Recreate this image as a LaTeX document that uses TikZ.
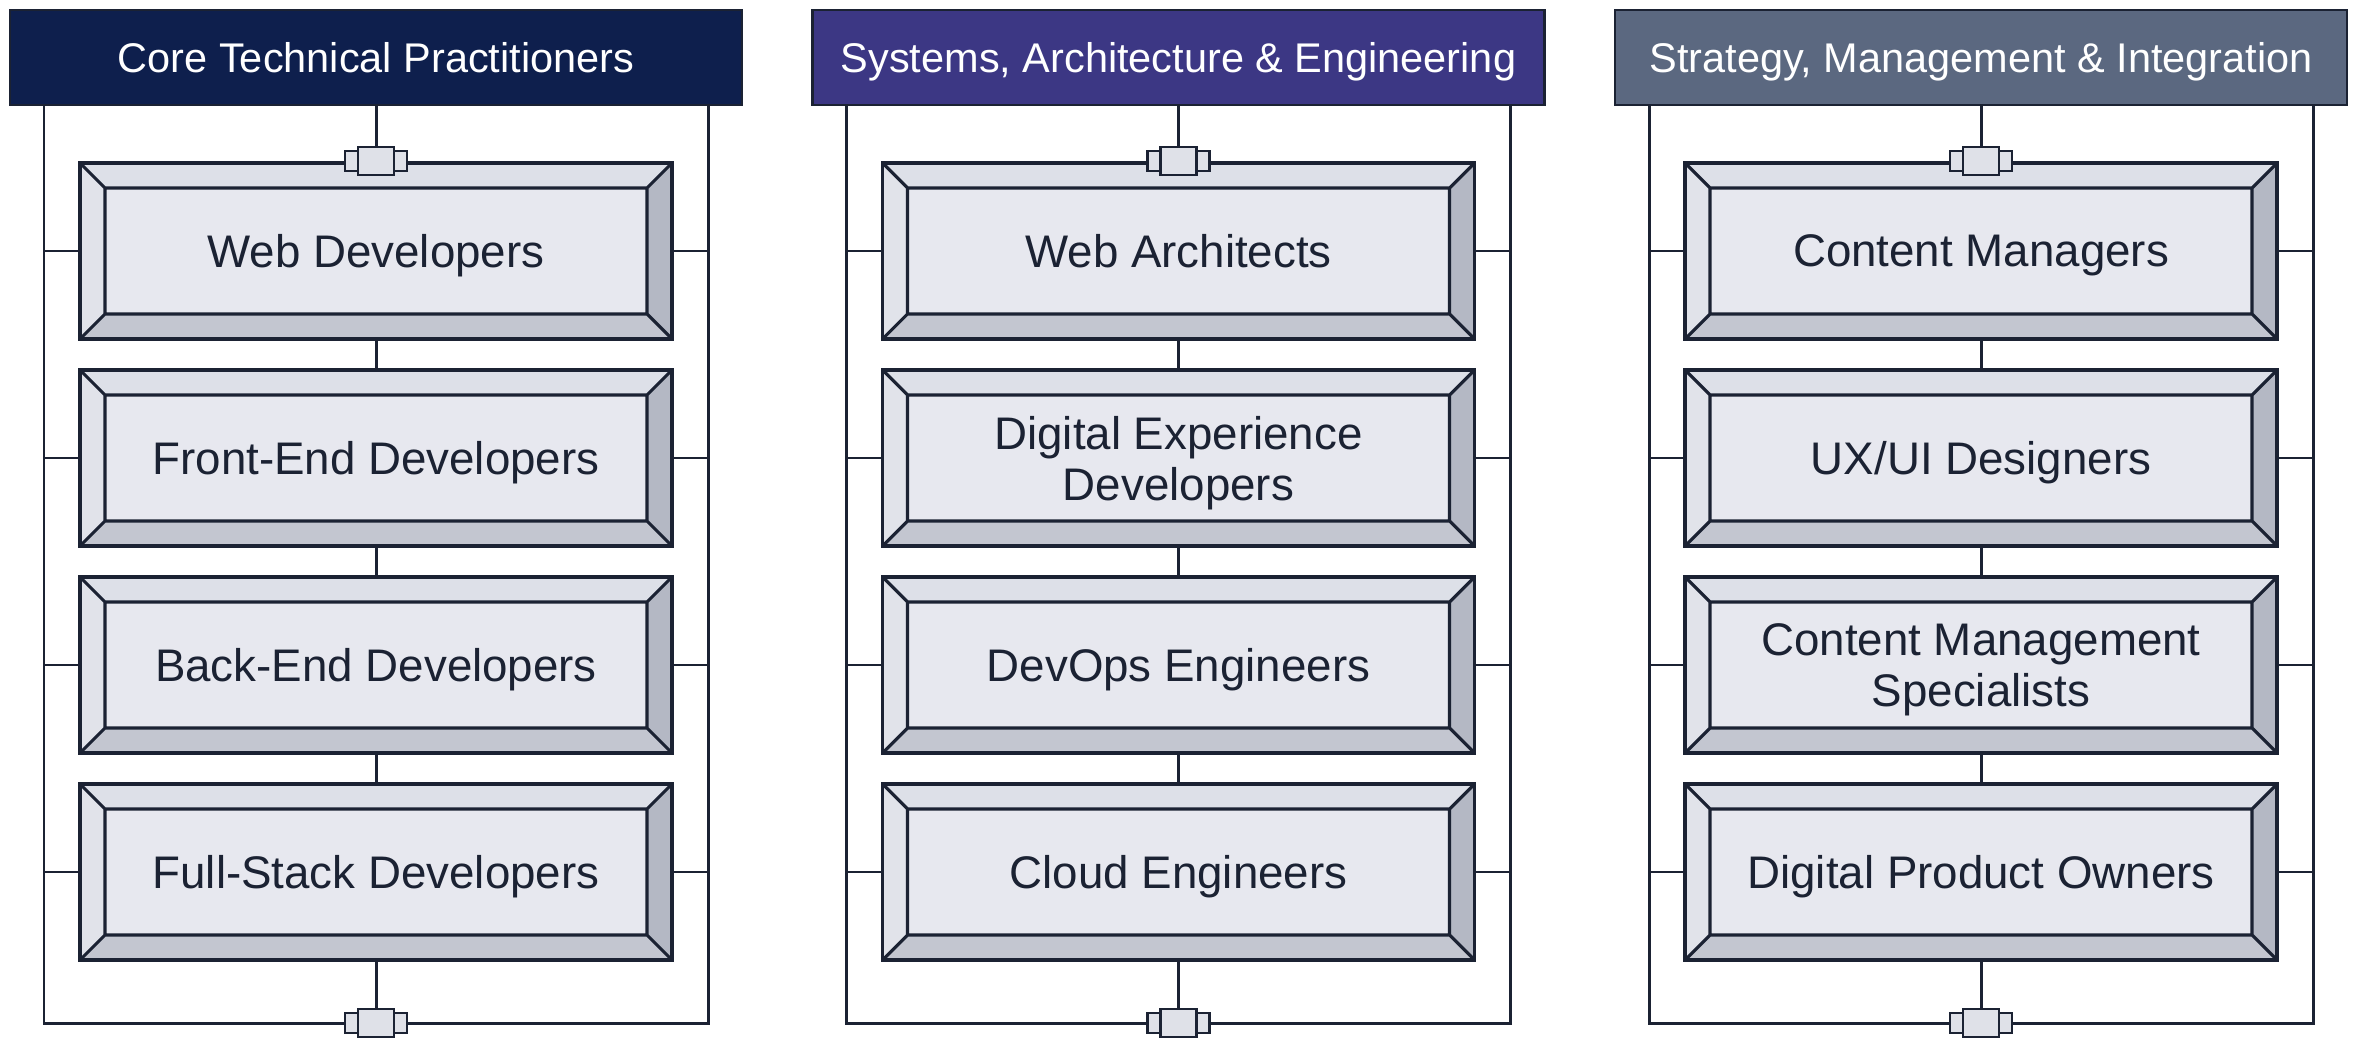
\documentclass[tikz,border=0pt]{standalone}
\usepackage{fontspec}
\setmainfont{Liberation Sans}
\definecolor{lineC}{HTML}{1B2233}
\definecolor{faceC}{HTML}{E7E8EF}
\definecolor{bevT}{HTML}{DDE0E8}
\definecolor{bevL}{HTML}{E1E3EA}
\definecolor{bevR}{HTML}{B4B8C4}
\definecolor{bevB}{HTML}{C3C6D0}
\definecolor{jointC}{HTML}{DFE1E8}
\definecolor{hdA}{HTML}{0E1F4D}
\definecolor{hdB}{HTML}{3C3784}
\definecolor{hdC}{HTML}{5B6880}
\newcommand{\bevel}{%
  \path (path picture bounding box.north west) coordinate (o1)
        (path picture bounding box.north east) coordinate (o2)
        (path picture bounding box.south east) coordinate (o3)
        (path picture bounding box.south west) coordinate (o4);
  \path ([shift={(2.5mm,-2.5mm)}]o1) coordinate (i1)
        ([shift={(-2.5mm,-2.5mm)}]o2) coordinate (i2)
        ([shift={(-2.5mm,2.5mm)}]o3) coordinate (i3)
        ([shift={(2.5mm,2.5mm)}]o4) coordinate (i4);
  \fill[bevT] (o1) -- (o2) -- (i2) -- (i1) -- cycle;
  \fill[bevR] (o2) -- (o3) -- (i3) -- (i2) -- cycle;
  \fill[bevB] (o3) -- (o4) -- (i4) -- (i3) -- cycle;
  \fill[bevL] (o4) -- (o1) -- (i1) -- (i4) -- cycle;
  \draw[lineC, line width=0.9pt] (i1) rectangle (i3)
        (o1) -- (i1) (o2) -- (i2) (o3) -- (i3) (o4) -- (i4);}

\begin{document}
\begin{tikzpicture}[
      x=0.1mm, y=-0.1mm,
      head/.style={draw=lineC, line width=0.6pt, minimum width=73.2mm, minimum height=9.5mm,
                   inner sep=0pt, text depth=0pt, text=white, font=\fontsize{11.8}{14}\selectfont},
      role/.style={draw=lineC, line width=1.1pt, fill=faceC, minimum width=59.2mm, minimum height=17.6mm,
                   inner sep=0pt, align=center, text depth=0pt, text=lineC, font=\fontsize{13}{14.5}\selectfont,
                   path picture={\bevel}},
      lug/.style={draw=lineC, line width=0.6pt, fill=jointC, minimum width=6.2mm, minimum height=2mm, inner sep=0pt},
      joint/.style={draw=lineC, line width=0.8pt, fill=jointC, minimum width=3.6mm, minimum height=2.8mm, inner sep=0pt},
      wire/.style={draw=lineC, line width=0.85pt}
    ]
    \useasboundingbox (0,0) rectangle (2357,1039);
    % Draw the column headers.
    \node[head, fill=hdA] (h1) at (376,57.5) {Core Technical Practitioners};
    \node[head, fill=hdB] (h2) at (1178.5,57.5) {Systems, Architecture \& Engineering};
    \node[head, fill=hdC] (h3) at (1981,57.5) {Strategy, Management \& Integration};
    % Draw the role boxes.
    \node[role] (b11) at (376,251) {Web Developers};
    \node[role] (b12) at (376,458) {Front-End Developers};
    \node[role] (b13) at (376,665) {Back-End Developers};
    \node[role] (b14) at (376,872) {Full-Stack Developers};
    \node[role] (b21) at (1178.5,251) {Web Architects};
    \node[role] (b22) at (1178.5,458) {Digital Experience\\Developers};
    \node[role] (b23) at (1178.5,665) {DevOps Engineers};
    \node[role] (b24) at (1178.5,872) {Cloud Engineers};
    \node[role] (b31) at (1981,251) {Content Managers};
    \node[role] (b32) at (1981,458) {UX/UI Designers};
    \node[role] (b33) at (1981,665) {Content Management\\Specialists};
    \node[role] (b34) at (1981,872) {Digital Product Owners};
    % Draw the joints at the top and bottom of each column.
    \node[lug] (jt1l) at (b11.north) {};
    \node[joint] (jt1) at (b11.north) {};
    \node[lug] (jt2l) at (b21.north) {};
    \node[joint] (jt2) at (b21.north) {};
    \node[lug] (jt3l) at (b31.north) {};
    \node[joint] (jt3) at (b31.north) {};
    \node[lug] (jb1l) at (376,1023) {};
    \node[joint] (jb1) at (376,1023) {};
    \node[lug] (jb2l) at (1178.5,1023) {};
    \node[joint] (jb2) at (1178.5,1023) {};
    \node[lug] (jb3l) at (1981,1023) {};
    \node[joint] (jb3) at (1981,1023) {};
    % Corners of the frames.
    \coordinate (fl1) at (44,1023);
    \coordinate (fr1) at (708,1023);
    \coordinate (fl2) at (846.5,1023);
    \coordinate (fr2) at (1510.5,1023);
    \coordinate (fl3) at (1649,1023);
    \coordinate (fr3) at (2313,1023);
    % Draw the spine of each column.
    \draw[wire] (h1.south) -- (jt1.north) (b11.south) -- (b12.north) (b12.south) -- (b13.north)
                (b13.south) -- (b14.north) (b14.south) -- (jb1.north);
    \draw[wire] (h2.south) -- (jt2.north) (b21.south) -- (b22.north) (b22.south) -- (b23.north)
                (b23.south) -- (b24.north) (b24.south) -- (jb2.north);
    \draw[wire] (h3.south) -- (jt3.north) (b31.south) -- (b32.north) (b32.south) -- (b33.north)
                (b33.south) -- (b34.north) (b34.south) -- (jb3.north);
    % Draw the frames.
    \draw[wire] (h1.south -| fl1) -- (fl1) -- (jb1l.west) (jb1l.east) -- (fr1) -- (h1.south -| fr1);
    \draw[wire] (h2.south -| fl2) -- (fl2) -- (jb2l.west) (jb2l.east) -- (fr2) -- (h2.south -| fr2);
    \draw[wire] (h3.south -| fl3) -- (fl3) -- (jb3l.west) (jb3l.east) -- (fr3) -- (h3.south -| fr3);
    % Draw the side stubs.
    \draw[wire] (b11.west) -- (b11.west -| fl1) (b12.west) -- (b12.west -| fl1)
                (b13.west) -- (b13.west -| fl1) (b14.west) -- (b14.west -| fl1)
                (b11.east) -- (b11.east -| fr1) (b12.east) -- (b12.east -| fr1)
                (b13.east) -- (b13.east -| fr1) (b14.east) -- (b14.east -| fr1);
    \draw[wire] (b21.west) -- (b21.west -| fl2) (b22.west) -- (b22.west -| fl2)
                (b23.west) -- (b23.west -| fl2) (b24.west) -- (b24.west -| fl2)
                (b21.east) -- (b21.east -| fr2) (b22.east) -- (b22.east -| fr2)
                (b23.east) -- (b23.east -| fr2) (b24.east) -- (b24.east -| fr2);
    \draw[wire] (b31.west) -- (b31.west -| fl3) (b32.west) -- (b32.west -| fl3)
                (b33.west) -- (b33.west -| fl3) (b34.west) -- (b34.west -| fl3)
                (b31.east) -- (b31.east -| fr3) (b32.east) -- (b32.east -| fr3)
                (b33.east) -- (b33.east -| fr3) (b34.east) -- (b34.east -| fr3);
    \end{tikzpicture}
\end{document}
